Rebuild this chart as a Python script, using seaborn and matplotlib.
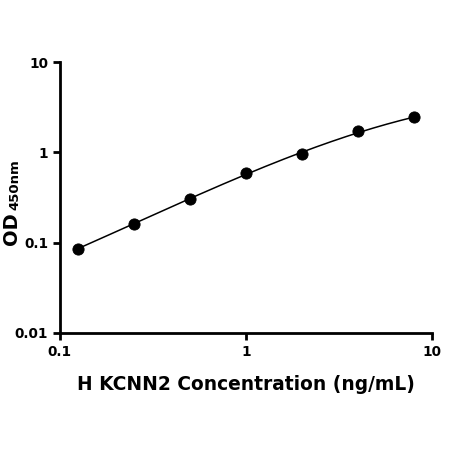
import numpy as np
import pandas as pd
import seaborn as sns
from matplotlib import pyplot as plt
from matplotlib.ticker import FixedLocator, NullLocator

# standard curve readings
conc = [0.125, 0.25, 0.5, 1, 2, 4, 8]
od = [0.086, 0.162, 0.306, 0.593, 0.95, 1.71, 2.44]
x_ticks = [0.1, 1, 10]
y_ticks = [0.01, 0.1, 1, 10]
x_labels = ["0.1", "1", "10"]
y_labels = ["0.01", "0.1", "1", "10"]

sns.set_style("ticks")
plt.rcParams['font.family'] = ['DejaVu Sans']

df = pd.DataFrame({"conc": conc, "od": od})

# smooth fit in log-log space
coef = np.polyfit(np.log10(conc), np.log10(od), 3)
xs = np.logspace(np.log10(min(conc)), np.log10(max(conc)), 200)
fit = pd.DataFrame({"conc": xs, "od": 10 ** np.polyval(coef, np.log10(xs))})

fig = plt.figure(figsize=(4.5, 4.5), dpi=100)
ax = fig.add_axes([0.133, 0.26, 0.827, 0.602])

sns.lineplot(data=fit, x="conc", y="od", ax=ax, color="black", linewidth=1.1)
sns.scatterplot(data=df, x="conc", y="od", ax=ax, color="black", s=65, edgecolor="black", zorder=3)

ax.set_xscale("log")
ax.set_yscale("log")
ax.set_xlim(0.1, 10)
ax.set_ylim(0.01, 10)
ax.xaxis.set_major_locator(FixedLocator(x_ticks))
ax.yaxis.set_major_locator(FixedLocator(y_ticks))
ax.xaxis.set_minor_locator(NullLocator())
ax.yaxis.set_minor_locator(NullLocator())
ax.set_xticklabels(x_labels, fontsize=9.8, fontweight="bold", color="black")
ax.set_yticklabels(y_labels, fontsize=9.8, fontweight="bold", color="black")
ax.tick_params(width=2, length=5, color="black")
for s in ["left", "bottom"]:
    ax.spines[s].set_linewidth(2)
    ax.spines[s].set_color("black")
sns.despine(ax=ax)

ax.set_xlabel("H KCNN2 Concentration (ng/mL)", fontsize=13.4, fontweight="bold",
              color="black", labelpad=12)
ax.set_ylabel("")
fig.text(0.0467, 0.493, "OD", rotation=90, ha="right", va="center",
         fontsize=14, fontweight="bold", color="black")
fig.text(0.0467, 0.589, "450nm", rotation=90, ha="right", va="center",
         fontsize=9.5, fontweight="bold", color="black")

fig.savefig("out.png", dpi=100)
